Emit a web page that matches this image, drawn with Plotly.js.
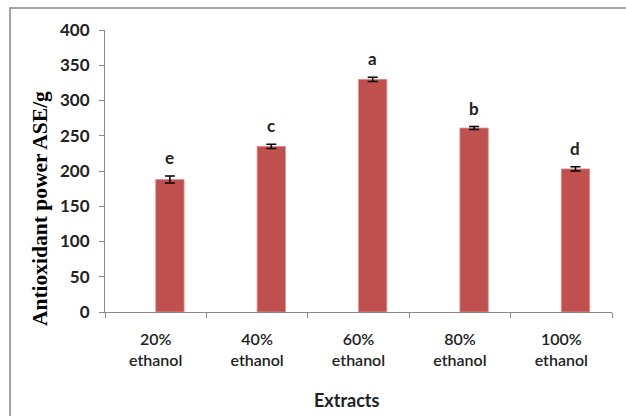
<!DOCTYPE html>
<html>
<head>
<meta charset="utf-8">
<script src="https://cdn.plot.ly/plotly-3.0.1.min.js"></script>
<style>html,body{margin:0;padding:0;background:#fff;}#chart{width:626px;height:416px;}</style>
</head>
<body>
<div id="chart"></div>
<script>
const categories = ["20%<br>ethanol", "40%<br>ethanol", "60%<br>ethanol", "80%<br>ethanol", "100%<br>ethanol"];
const values = [188, 235, 330, 261, 203];
const errors = [5, 3, 3, 2, 3];
const letters = ["e", "c", "a", "b", "d"];
const yTicks = [0, 50, 100, 150, 200, 250, 300, 350, 400];

const trace = {
  type: "bar",
  x: categories,
  y: values,
  marker: {color: "#C0504D", line: {color: "#D99694", width: 0.8}},
  width: 0.28,
  offset: 0,
  error_y: {type: "data", array: errors, visible: true, color: "#000", thickness: 1.5, width: 5},
  hoverinfo: "none"
};

const annotations = categories.map((c, i) => ({
  x: c, y: values[i] + errors[i], xref: "x", yref: "y", xshift: 14,
  text: "<b>" + letters[i] + "</b>", showarrow: false, yanchor: "bottom", yshift: 6,
  font: {family: "Lato, Open Sans, Arial", size: 17, color: "#222"}
}));
annotations.push({
  xref: "paper", yref: "paper", x: -0.128, y: (312 - 209) / 282,
  text: "<b>Antioxidant power ASE/g</b>", textangle: -90, showarrow: false,
  xanchor: "center", yanchor: "middle",
  font: {family: "Liberation Serif, Times New Roman, serif", size: 21.5, color: "#000"}
});
annotations.push({
  xref: "paper", yref: "paper", x: (347 - 105) / 507, y: (312 - 400) / 282,
  text: "<b>Extracts</b>", showarrow: false, xanchor: "center", yanchor: "middle",
  font: {family: "Lato, Open Sans, Arial", size: 18, color: "#222"}
});

const layout = {
  width: 626, height: 416,
  margin: {l: 105, r: 14, t: 30, b: 104},
  paper_bgcolor: "#fff", plot_bgcolor: "#fff",
  showlegend: false,
  xaxis: {
    type: "category", tickson: "boundaries", ticks: "outside", ticklen: 5, tickcolor: "#888",
    showline: true, linecolor: "#888", linewidth: 1, showgrid: false,
    tickfont: {family: "Lato, Open Sans, Arial", size: 16, color: "#222", weight: 600},
    ticklabelstandoff: 13
  },
  yaxis: {
    range: [0, 400], tickvals: yTicks, ticks: "outside", ticklen: 5, tickcolor: "#888",
    showline: true, linecolor: "#888", linewidth: 1, showgrid: false, zeroline: false,
    tickfont: {family: "Lato, Open Sans, Arial", size: 17, color: "#222", weight: 700},
    ticklabelstandoff: 6
  },
  annotations: annotations,
  shapes: [{
    type: "rect", xref: "paper", yref: "paper",
    x0: (10 - 105) / 507, x1: 1.2, y0: -0.5, y1: (312 - 8) / 282,
    line: {color: "#888", width: 1.5}, fillcolor: "rgba(0,0,0,0)", layer: "below"
  }]
};

Plotly.newPlot("chart", [trace], layout, {staticPlot: true});
</script>
</body>
</html>
